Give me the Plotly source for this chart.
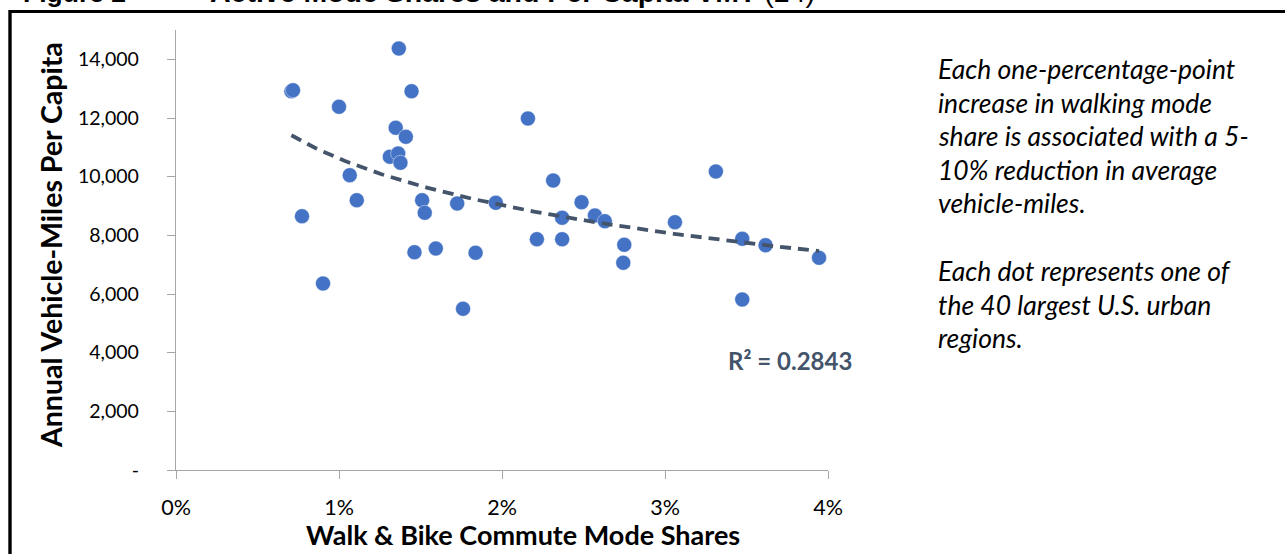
import numpy as np
import plotly.graph_objects as go

# Walk & bike commute mode share (%) and annual vehicle-miles per capita, 40 largest U.S. urban regions
walk_bike_share = [0.708, 0.718, 1.367, 1.445, 1.000, 2.159, 1.348, 1.410, 1.312, 1.363,
                   1.377, 1.066, 1.109, 1.510, 1.526, 1.725, 1.962, 0.773, 1.463, 1.594,
                   1.838, 0.902, 1.761, 2.314, 3.312, 2.488, 2.369, 2.570, 2.631, 3.061,
                   2.214, 2.369, 2.750, 2.744, 3.474, 3.617, 3.945, 3.474]
vmt_per_capita = [12914, 12948, 14370, 12914, 12382, 11983, 11666, 11359, 10677, 10790,
                  10473, 10050, 9198, 9198, 8768, 9085, 9109, 8652, 7425, 7551,
                  7405, 6358, 5496, 9869, 10176, 9130, 8598, 8676, 8482, 8448,
                  7868, 7868, 7677, 7064, 7882, 7664, 7234, 5813]
r_squared = 0.2843

x_ticks = [0, 1, 2, 3, 4]
x_tick_text = ["0%", "1%", "2%", "3%", "4%"]
y_ticks = [0, 2000, 4000, 6000, 8000, 10000, 12000, 14000]
y_tick_text = ["-", "2,000", "4,000", "6,000", "8,000", "10,000", "12,000", "14,000"]

note_lines_1 = ["Each one-percentage-point", "increase in walking mode",
                "share is associated with a 5-", "10% reduction in average", "vehicle-miles."]
note_lines_2 = ["Each dot represents one of", "the 40 largest U.S. urban", "regions."]

W, H = 1285, 554
L, R, T, B = 176, 457, 30, 84
PW, PH = W - L - R, H - T - B


def px(x):
    return (x - L) / PW


def py(y):
    return (H - B - y) / PH


# Logarithmic trendline fitted to the points
xs = np.array(walk_bike_share)
ys = np.array(vmt_per_capita)
a, b = np.polyfit(np.log(xs), ys, 1)
trend_x = np.linspace(xs.min(), xs.max(), 200)
trend_y = a * np.log(trend_x) + b

fig = go.Figure()
fig.add_trace(go.Scatter(
    x=walk_bike_share, y=vmt_per_capita, mode="markers",
    marker=dict(size=15, color="#4472C4", line=dict(width=0.8, color="rgba(255,255,255,0.55)")),
    showlegend=False, hoverinfo="x+y",
))
fig.add_trace(go.Scatter(
    x=trend_x, y=trend_y, mode="lines",
    line=dict(color="#44546A", width=3.8, dash="11px,7px"),
    showlegend=False, hoverinfo="skip",
))

FONT = "Lato, Arial, sans-serif"
fig.update_xaxes(
    range=[0, 4], tickvals=x_ticks, ticktext=x_tick_text, showgrid=False, zeroline=False,
    showline=True, linecolor="#A6A6A6", linewidth=1.3, ticks="outside", ticklen=8,
    tickcolor="#A6A6A6", tickwidth=1.3, tickfont=dict(family=FONT, size=21.5, color="#000000"),
    ticklabelstandoff=10,
)
fig.update_yaxes(
    range=[0, 15000], tickvals=y_ticks, ticktext=y_tick_text, showgrid=False, zeroline=False,
    showline=True, linecolor="#A6A6A6", linewidth=1.3, ticks="outside", ticklen=8,
    tickcolor="#A6A6A6", tickwidth=1.3, tickfont=dict(family=FONT, size=19.5, color="#000000"),
    ticklabelstandoff=24,
)

annotations = [
    dict(x=px(523), y=py(534), text="<b>Walk & Bike Commute Mode Shares</b>",
         font=dict(family=FONT, size=27, color="#000000")),
    dict(x=px(51), y=py(245), text="<b>Annual Vehicle-Miles Per Capita</b>", textangle=-90,
         font=dict(family=FONT, size=28.5, color="#000000")),
    dict(x=px(790), y=py(361), text="<b>R² = 0.2843</b>",
         font=dict(family=FONT, size=24, color="#44546A")),
    dict(x=px(21), y=py(10), xanchor="left", yanchor="bottom",
         text="<b>Figure 2</b>",
         font=dict(family="Arial, Liberation Sans, sans-serif", size=26.5, color="#000000")),
    dict(x=px(208), y=py(10), xanchor="left", yanchor="bottom",
         text="<b>Active Mode Shares and Per Capita VMT</b> (24)",
         font=dict(family="Arial, Liberation Sans, sans-serif", size=28.5, color="#000000")),
]
for i, line in enumerate(note_lines_1):
    annotations.append(dict(x=px(936), y=py(69 + i * 33.6), xanchor="left", text="<i>%s</i>" % line,
                            font=dict(family=FONT, size=26.5, color="#000000")))
for i, line in enumerate(note_lines_2):
    annotations.append(dict(x=px(936), y=py(271 + i * 33.6), xanchor="left", text="<i>%s</i>" % line,
                            font=dict(family=FONT, size=26.5, color="#000000")))
for ann in annotations:
    ann.update(xref="paper", yref="paper", showarrow=False)
    ann.setdefault("xanchor", "center")
    ann.setdefault("yanchor", "middle")

shapes = [
    # frame around the figure
    dict(type="line", xref="paper", yref="paper", x0=px(10), x1=px(1300), y0=py(11.4), y1=py(11.4),
         line=dict(color="#000000", width=3)),
    dict(type="line", xref="paper", yref="paper", x0=px(10), x1=px(10), y0=py(10), y1=py(570),
         line=dict(color="#000000", width=3.4)),
]

fig.update_layout(
    width=W, height=H, margin=dict(l=L, r=R, t=T, b=B, autoexpand=False),
    paper_bgcolor="#FFFFFF", plot_bgcolor="#FFFFFF",
    annotations=annotations, shapes=shapes, showlegend=False,
)
fig.write_html("out.html")
